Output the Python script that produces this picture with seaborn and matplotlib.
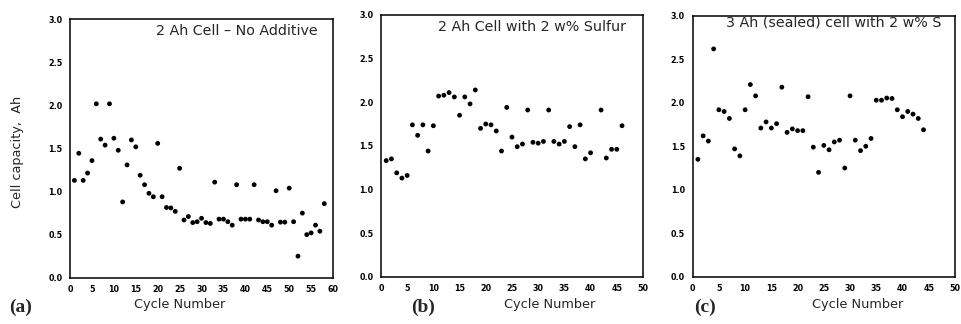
import matplotlib
matplotlib.use("Agg")
import matplotlib.pyplot as plt
import numpy as np
import pandas as pd
import seaborn as sns

# ---------------- data ----------------
cycles_a = list(range(1, 59))
cap_a = [1.13, 1.445, 1.13, 1.215, 1.36, 2.02, 1.61, 1.54, 2.02, 1.62,
         1.48, 0.88, 1.31, 1.60, 1.52, 1.19, 1.08, 0.98, 0.94, 1.56,
         0.94, 0.815, 0.81, 0.77, 1.27, 0.67, 0.71, 0.64, 0.65, 0.69,
         0.64, 0.63, 1.11, 0.68, 0.68, 0.65, 0.61, 1.08, 0.68, 0.68,
         0.68, 1.08, 0.67, 0.65, 0.65, 0.61, 1.01, 0.645, 0.645, 1.04,
         0.65, 0.25, 0.75, 0.50, 0.52, 0.61, 0.54, 0.86]

cycles_b = list(range(1, 41)) + [42, 43, 44, 45, 46]
cap_b = [1.33, 1.35, 1.19, 1.13, 1.16, 1.74, 1.62, 1.74, 1.44, 1.73,
         2.07, 2.08, 2.11, 2.06, 1.85, 2.06, 1.98, 2.14, 1.70, 1.75,
         1.74, 1.67, 1.44, 1.94, 1.60, 1.49, 1.52, 1.91, 1.54, 1.53,
         1.55, 1.91, 1.55, 1.52, 1.55, 1.72, 1.49, 1.74, 1.35, 1.42,
         1.91, 1.36, 1.46, 1.46, 1.73]

cycles_c = list(range(1, 45))
cap_c = [1.35, 1.62, 1.56, 2.62, 1.92, 1.90, 1.82, 1.47, 1.39, 1.92,
         2.21, 2.08, 1.71, 1.78, 1.71, 1.76, 2.18, 1.66, 1.70, 1.68,
         1.68, 2.07, 1.49, 1.20, 1.51, 1.46, 1.55, 1.57, 1.25, 2.08,
         1.57, 1.45, 1.50, 1.59, 2.03, 2.03, 2.055, 2.05, 1.92, 1.84,
         1.90, 1.87, 1.82, 1.69]

titles = ["2 Ah Cell \u2013 No Additive", "2 Ah Cell with 2 w% Sulfur",
          "3 Ah (sealed) cell with 2 w% S"]
panel_tags = ["(a)", "(b)", "(c)"]
xmax = [60, 50, 50]
y_ticks = [0.0, 0.5, 1.0, 1.5, 2.0, 2.5, 3.0]

# ---------------- style ----------------
sns.set_style("white")
plt.rcParams["font.family"] = ["DejaVu Sans"]

fig = plt.figure(figsize=(9.62, 3.24), dpi=100)

rects = [
    [0.0728, 0.143, 0.2734, 0.797],
    [0.3960, 0.146, 0.2724, 0.808],
    [0.7200, 0.146, 0.2727, 0.805],
]
title_pos = [(0.94, 0.955), (0.934, 0.953), (0.95, 0.975)]
xlabel_x = [0.415, 0.645, 0.63]
tag_x = [0.021, 0.44, 0.733]

datasets = [(cycles_a, cap_a), (cycles_b, cap_b), (cycles_c, cap_c)]

for i, (cyc, cap) in enumerate(datasets):
    ax = fig.add_axes(rects[i])
    df = pd.DataFrame({"cycle": cyc, "cap": cap})
    sns.scatterplot(data=df, x="cycle", y="cap", ax=ax, color="black",
                    s=12, linewidth=0, edgecolor="none")
    ax.set_xlim(0, xmax[i])
    ax.set_ylim(0, 3.0)
    ax.set_xticks(np.arange(0, xmax[i] + 1, 5))
    ax.set_yticks(y_ticks)
    ax.set_yticklabels([f"{v:.1f}" for v in y_ticks])
    ax.tick_params(axis="both", direction="inout", length=5, width=1.0,
                   labelsize=5.8, pad=3, colors="black")
    for lab in ax.get_xticklabels() + ax.get_yticklabels():
        lab.set_fontweight("bold")
    for sp in ax.spines.values():
        sp.set_visible(True)
        sp.set_color("black")
        sp.set_linewidth(1.1)
    ax.set_xlabel("")
    ax.set_ylabel("")
    ax.text(title_pos[i][0], title_pos[i][1], titles[i], transform=ax.transAxes,
            ha="right", va="center", fontsize=10.3)
    ax.text(xlabel_x[i], -0.105, "Cycle Number", transform=ax.transAxes,
            ha="center", va="center", fontsize=9.3)
    fig.text(tag_x[i], 0.05, panel_tags[i], ha="center", va="center",
             fontsize=14, fontweight="bold", family=["Liberation Serif", "DejaVu Serif"])

fig.text(0.018, 0.531, "Cell capacity,  Ah", rotation=90, ha="center",
         va="center", fontsize=9.3)

fig.savefig("out.png", dpi=100)
